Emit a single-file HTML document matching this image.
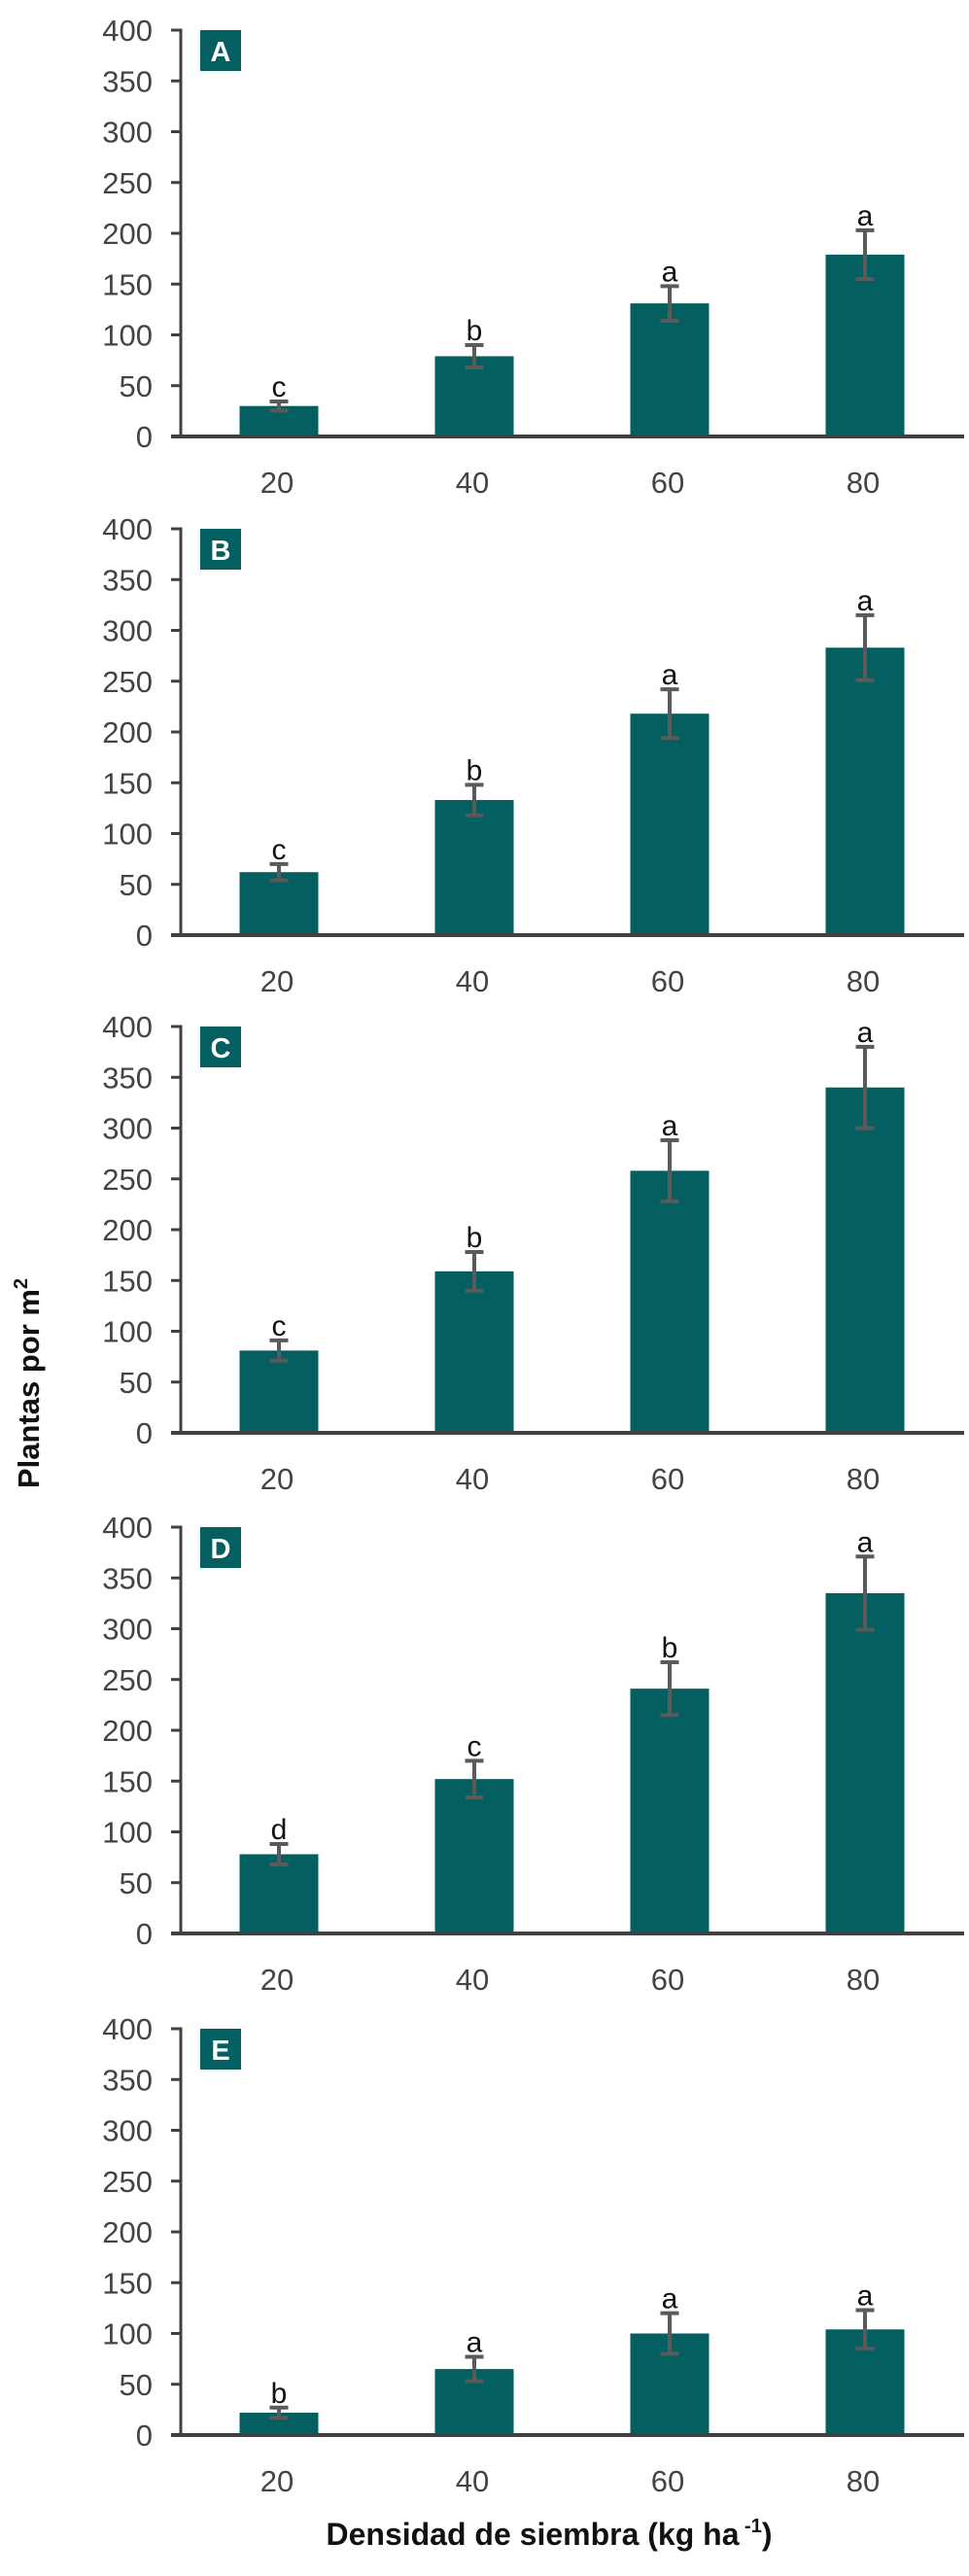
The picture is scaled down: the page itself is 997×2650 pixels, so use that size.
<!DOCTYPE html>
<html><head><meta charset="utf-8"><style>
html,body{margin:0;padding:0;background:#fff;}
svg{display:block;}
</style></head><body>
<svg id="chart" width="997" height="2650" viewBox="0 0 997 2650" xmlns="http://www.w3.org/2000/svg" font-family="'Liberation Sans', sans-serif">
<text transform="translate(40,1423) rotate(-90)" text-anchor="middle" font-weight="bold" font-size="31" fill="#111">Plantas por m<tspan font-size="20" dy="-12">2</tspan></text>
<text x="565" y="2618" text-anchor="middle" font-weight="bold" font-size="32" fill="#111">Densidad de siembra (kg ha<tspan font-size="20" dy="-13"> -1</tspan><tspan dy="13">)</tspan></text>
</svg>
<script>
const categories = ['20','40','60','80'];
const panelLabels = ['A','B','C','D','E'];
const yTicks = [0,50,100,150,200,250,300,350,400];
const meansA = [30,79,131,179];
const errA = [4.5,11,17,24];
const lettersA = ['c','b','a','a'];
const meansB = [62,133,218,283];
const errB = [8,15,24,32];
const lettersB = ['c','b','a','a'];
const meansC = [81,159,258,340];
const errC = [10,19,30,40];
const lettersC = ['c','b','a','a'];
const meansD = [78,152,241,335];
const errD = [10,18,26,36];
const lettersD = ['d','c','b','a'];
const meansE = [22,65,100,104];
const errE = [5,12,20,19];
const lettersE = ['b','a','a','a'];

const means = [meansA,meansB,meansC,meansD,meansE];
const errs = [errA,errB,errC,errD,errE];
const letters = [lettersA,lettersB,lettersC,lettersD,lettersE];
const zeros = [449,962,1474,1989,2505];
const NS='http://www.w3.org/2000/svg';
const svg=document.getElementById('chart');
function mk(tag,attrs,parent){const e=document.createElementNS(NS,tag);for(const k in attrs)e.setAttribute(k,attrs[k]);(parent||svg).appendChild(e);return e;}
const axisX=186, xEnd=992, plotH=418, vmax=400;
function xPos(i){return 287+i*201;}
panelLabels.forEach((pl,p)=>{
  const z=zeros[p];
  const yS=v=>z-v/vmax*plotH;
  const g=mk('g',{});
  
  
  yTicks.forEach(t=>{
    const tk=mk('line',{x1:axisX-10,x2:axisX,y1:yS(t),y2:yS(t),stroke:'#404040','stroke-width':3},g);
    
    
    const tl=mk('text',{x:157,y:yS(t)+11,'text-anchor':'end','font-size':31,fill:'#444'},g);
    
    
    tl.textContent=t;
  });
  categories.forEach((c,i)=>{
    const cx=xPos(i), v=means[p][i], e=errs[p][i];
    const b=mk('rect',{x:cx-40.5,y:yS(v),width:81,height:z-yS(v),fill:'#035f60'},g);
    
    
    const eg=mk('g',{stroke:'#5a5a5a','stroke-width':4},g);
    
    
    mk('line',{x1:cx,x2:cx,y1:yS(v+e),y2:yS(v-e)},eg);
    mk('line',{x1:cx-9.5,x2:cx+9.5,y1:yS(v+e),y2:yS(v+e)},eg);
    mk('line',{x1:cx-9.5,x2:cx+9.5,y1:yS(v-e),y2:yS(v-e)},eg);
    const lt=mk('text',{x:cx,y:yS(v+e)-5,'text-anchor':'middle','font-size':30,fill:'#111'},g);
    
    
    lt.textContent=letters[p][i];
    const xl=mk('text',{x:cx-2,y:z+58,'text-anchor':'middle','font-size':31,fill:'#444'},g);
    
    
    xl.textContent=c;
  });
  const ya=mk('line',{x1:axisX,x2:axisX,y1:z-plotH-1.5,y2:z,stroke:'#404040','stroke-width':3},g);
  
  
  const xa=mk('line',{x1:176,x2:xEnd,y1:z,y2:z,stroke:'#404040','stroke-width':4},g);
  
  
  const bx=mk('rect',{x:206,y:z-plotH,width:42,height:42,fill:'#035f60'},g);
  
  
  const bt=mk('text',{x:227,y:z-plotH+32,'text-anchor':'middle','font-size':29,'font-weight':'bold',fill:'#fff'},g);
  
  
  bt.textContent=pl;
});
</script>
</body></html>
